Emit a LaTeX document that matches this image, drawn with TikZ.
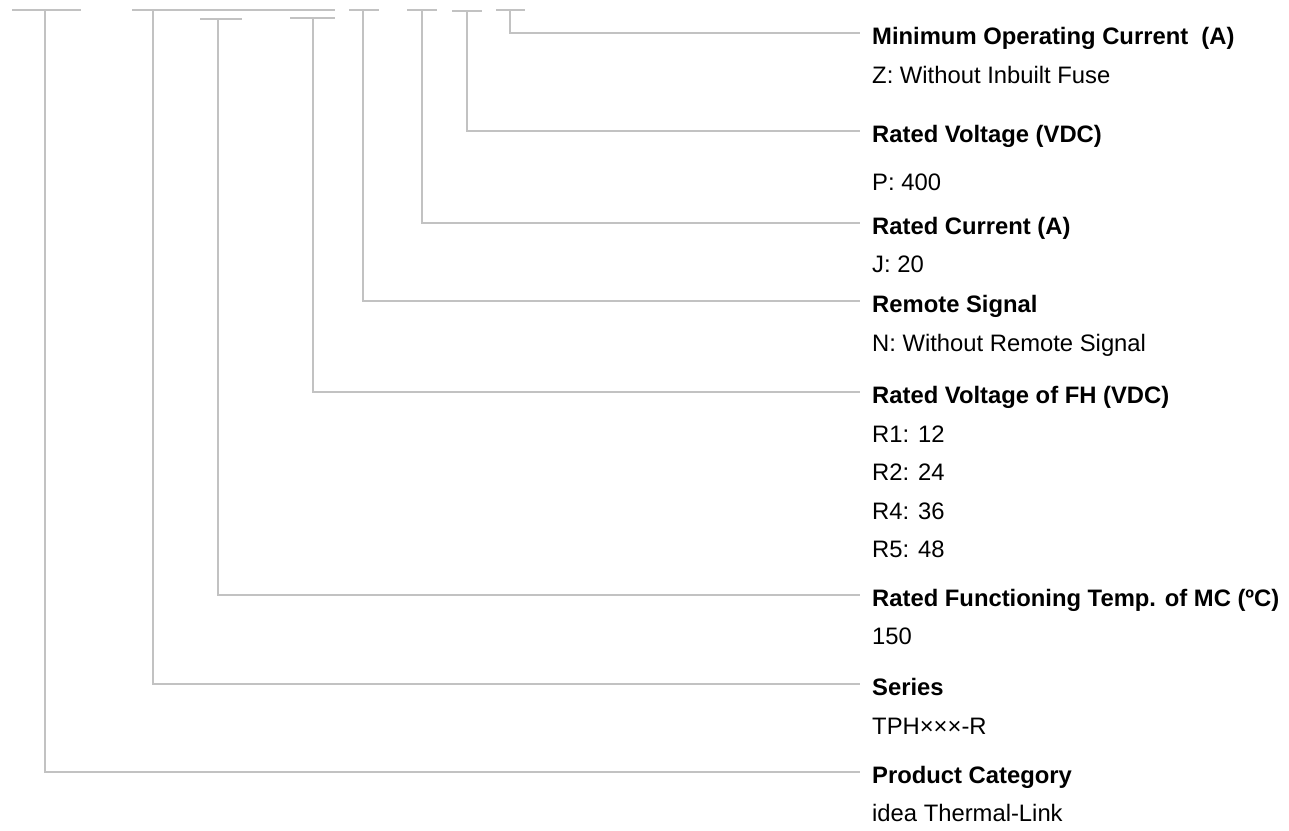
\documentclass[tikz,border=0pt]{standalone}
\usepackage{fontspec}
\setmainfont{Liberation Sans}
\begin{document}
\begin{tikzpicture}[x=1pt,y=-1pt,
  conn/.style={draw=black!24, line width=1.4pt},
  hdr/.style={anchor=west, inner xsep=12pt, inner ysep=0pt, text height=23pt, text depth=0pt,
     font=\fontsize{23.8}{28}\selectfont\bfseries},
  sub/.style={anchor=base west, inner sep=0pt, font=\fontsize{23.8}{28}\selectfont}]
\useasboundingbox (0,0) rectangle (1289,830);
% top coordinates (vertical stems)
\coordinate (t1) at (510,10);
\coordinate (t2) at (467,11);
\coordinate (t3) at (422,10);
\coordinate (t4) at (363,10);
\coordinate (t5) at (313,18);
\coordinate (t6) at (218,19);
\coordinate (t7) at (153,10);
\coordinate (t8) at (45,10);
% top short bars
\draw[conn] (496,10) -- (525,10);
\draw[conn] (452,11) -- (482,11);
\draw[conn] (407,10) -- (437,10);
\draw[conn] (349,10) -- (379,10);
\draw[conn] (290,18) -- (335,18);
\draw[conn] (200,19) -- (242,19);
\draw[conn] (132,10) -- (335,10);
\draw[conn] (12,10) -- (81,10);
% headers
\node[hdr] (h1) at (860,33) {Minimum Operating Current\ \ (A)};
\node[hdr] (h2) at (860,131) {Rated Voltage (VDC)};
\node[hdr] (h3) at (860,223) {Rated Current (A)};
\node[hdr] (h4) at (860,301) {Remote Signal};
\node[hdr] (h5) at (860,392) {Rated Voltage of FH (VDC)};
\node[hdr] (h6) at (860,595) {Rated Functioning Temp. of MC (ºC)};
\node[hdr] (h7) at (860,684) {Series};
\node[hdr] (h8) at (860,772) {Product Category};
% values
\node[sub] (v1) at (872,83.5) {Z: Without Inbuilt Fuse};
\node[sub] (v2) at (872,190) {P: 400};
\node[sub] (v3) at (872,272) {J: 20};
\node[sub] (v4) at (872,351) {N: Without Remote Signal};
\node[sub] (v5a) at (872,442) {R1: 12};
\node[sub] (v5b) at (872,480.5) {R2: 24};
\node[sub] (v5c) at (872,519) {R4: 36};
\node[sub] (v5d) at (872,557.5) {R5: 48};
\node[sub] (v6) at (872,644) {150};
\node[sub] (v7) at (872,734) {TPH×××-R};
\node[sub] (v8) at (872,821) {idea Thermal-Link};
% connectors
\draw[conn] (t1) |- (h1.west);
\draw[conn] (t2) |- (h2.west);
\draw[conn] (t3) |- (h3.west);
\draw[conn] (t4) |- (h4.west);
\draw[conn] (t5) |- (h5.west);
\draw[conn] (t6) |- (h6.west);
\draw[conn] (t7) |- (h7.west);
\draw[conn] (t8) |- (h8.west);
\end{tikzpicture}
\end{document}
